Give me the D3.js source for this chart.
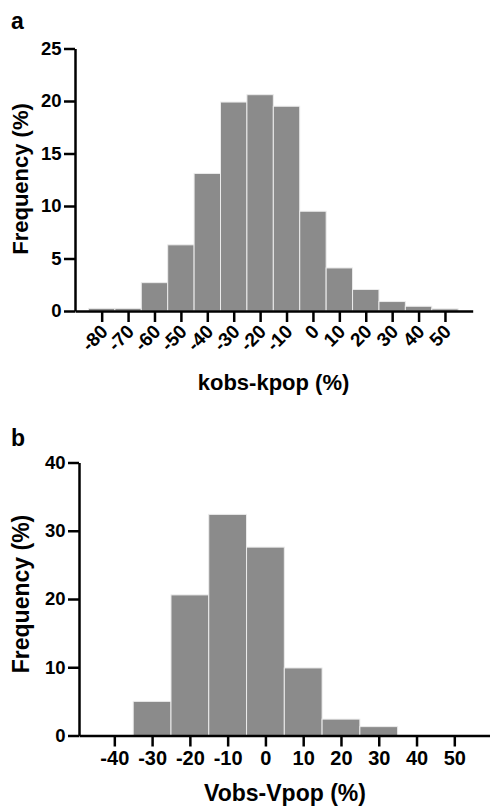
<!DOCTYPE html>
<html>
<head>
<meta charset="utf-8">
<script src="https://cdn.jsdelivr.net/npm/d3@7"></script>
<style>
  body { margin: 0; background: #fff; }
  text { font-family: "Liberation Sans", Arial, sans-serif; font-weight: bold; }
</style>
</head>
<body>
<div id="canvas"></div>
<script>
// panel a: kobs-kpop histogram (bin centres, % frequency)
const kBins = [-80, -70, -60, -50, -40, -30, -20, -10, 0, 10, 20, 30, 40, 50];
const kFreq = [0.25, 0.25, 2.7, 6.3, 13.1, 19.9, 20.6, 19.5, 9.5, 4.1, 2.05, 0.9, 0.45, 0.2];
const kYTicks = [0, 5, 10, 15, 20, 25];

// panel b: Vobs-Vpop histogram
const vBins = [-40, -30, -20, -10, 0, 10, 20, 30, 40, 50];
const vFreq = [0, 5.0, 20.6, 32.4, 27.6, 9.9, 2.4, 1.3, 0, 0];
const vYTicks = [0, 10, 20, 30, 40];

const width = 490;
const height = 806;
const barFill = "#8b8b8b";

const svg = d3.select("#canvas").append("svg")
  .attr("width", width)
  .attr("height", height);

const drawPanel = (opt) => {
  const data = opt.bins.map((b, i) => ({ bin: b, value: opt.freq[i] }));

  const xScale = d3.scaleLinear().domain(opt.xDomain).range(opt.xRange);
  const yScale = d3.scaleLinear().domain(opt.yDomain).range(opt.yRange);
  const binW = xScale(10) - xScale(0);

  const g = svg.append("g");

  g.selectAll("rect")
    .data(data.filter(d => d.value > 0))
    .enter()
    .append("rect")
    .attr("x", d => xScale(d.bin - 5))
    .attr("y", d => yScale(d.value))
    .attr("width", binW)
    .attr("height", d => yScale(0) - yScale(d.value))
    .attr("fill", barFill)
    .attr("stroke", "#ececec")
    .attr("stroke-width", 1);

  const yAxis = g.append("g")
    .attr("transform", `translate(${opt.xRange[0]},0)`)
    .call(d3.axisLeft(yScale).tickValues(opt.yTicks).tickFormat(d => `${d}`)
      .tickSize(11).tickSizeOuter(0).tickPadding(2.5));

  const xAxis = g.append("g")
    .attr("transform", `translate(0,${opt.yRange[0]})`)
    .call(d3.axisBottom(xScale).tickValues(opt.bins).tickFormat(d => `${d}`)
      .tickSize(11).tickSizeOuter(0).tickPadding(4));

  [xAxis, yAxis].forEach(ax => {
    ax.select(".domain").attr("stroke", "#000").attr("stroke-width", 2.5);
    ax.selectAll(".tick line").attr("stroke", "#000").attr("stroke-width", 2.5);
    ax.selectAll("text").attr("fill", "#000");
  });
  yAxis.selectAll("text").style("font-size", opt.yTickFont + "px");

  if (opt.rotate) {
    xAxis.selectAll("text")
      .style("font-size", opt.xTickFont + "px")
      .attr("text-anchor", "end")
      .attr("x", 0).attr("y", 0).attr("dy", "0.35em")
      .attr("transform", "translate(2,17) rotate(-45)");
  } else {
    xAxis.selectAll("text").style("font-size", opt.xTickFont + "px");
  }

  // axis titles
  svg.append("text")
    .attr("transform", `translate(${opt.yTitlePos[0]},${opt.yTitlePos[1]}) rotate(-90)`)
    .attr("text-anchor", "middle")
    .style("font-size", opt.titleFont + "px")
    .text("Frequency (%)");

  svg.append("text")
    .attr("x", opt.xTitlePos[0]).attr("y", opt.xTitlePos[1])
    .attr("text-anchor", "middle")
    .style("font-size", opt.titleFont + "px")
    .text(opt.xTitle);

  svg.append("text")
    .attr("x", 11).attr("y", opt.letterY)
    .style("font-size", "23px")
    .text(opt.letter);
};

drawPanel({
  bins: kBins, freq: kFreq, yTicks: kYTicks,
  xDomain: [-90.1, 60.5], xRange: [75, 472.7],
  yDomain: [0, 25], yRange: [311, 48.5],
  rotate: true, xTickFont: 19, yTickFont: 18.5, titleFont: 22,
  yTitlePos: [28, 179], xTitlePos: [273.5, 390],
  xTitle: "kobs-kpop (%)", letter: "a", letterY: 29
});

drawPanel({
  bins: vBins, freq: vFreq, yTicks: vYTicks,
  xDomain: [-49.35, 59.45], xRange: [79, 490],
  yDomain: [0, 40], yRange: [735.5, 462.5],
  rotate: false, xTickFont: 20, yTickFont: 18.5, titleFont: 23,
  yTitlePos: [29, 594], xTitlePos: [285, 801],
  xTitle: "Vobs-Vpop (%)", letter: "b", letterY: 446
});
</script>
</body>
</html>
